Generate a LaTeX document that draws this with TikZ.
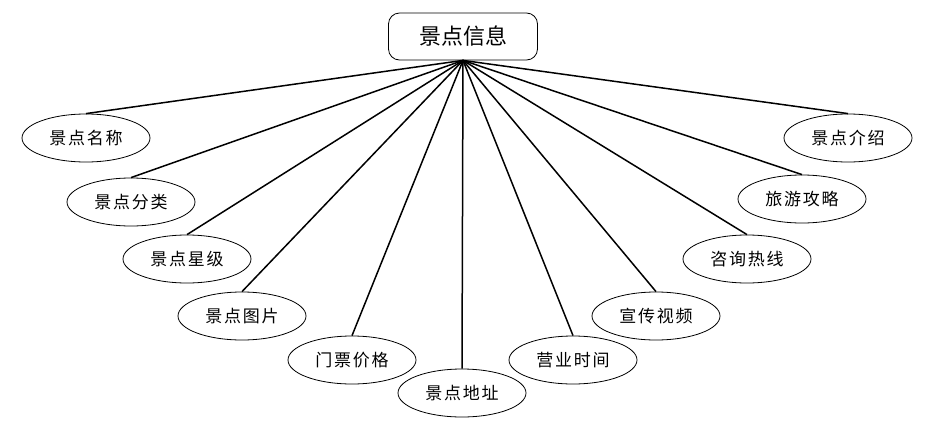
\documentclass[tikz,border=0pt]{standalone}
\usepackage{fontspec}
\setmainfont{Noto Sans CJK SC}
\newfontfamily\cjkleaf[LetterSpace=10]{Noto Sans CJK SC}
\usetikzlibrary{shapes.geometric}
\tikzset{
  leaf/.style={ellipse, draw, line width=0.8pt, minimum width=128pt, minimum height=48pt, inner sep=0pt, font=\cjkleaf\fontsize{17}{19}\selectfont},
  root/.style={draw, rounded corners=11pt, line width=0.8pt, minimum width=149pt, minimum height=47pt, inner sep=0pt, font=\fontsize{22}{24}\selectfont},
  link/.style={line width=1.5pt}
}
\begin{document}
\begin{tikzpicture}[x=1pt,y=-1pt]
\useasboundingbox (0,0) rectangle (926,434);
\node[root] (r) at (463,36.5) {景点信息};
\node[leaf] (a1) at (86,138) {景点名称};
\node[leaf] (a2) at (131,202) {景点分类};
\node[leaf] (a3) at (187,259) {景点星级};
\node[leaf] (a4) at (242,316) {景点图片};
\node[leaf] (a5) at (352,360) {门票价格};
\node[leaf] (a6) at (462,393) {景点地址};
\node[leaf] (a7) at (573,360) {营业时间};
\node[leaf] (a8) at (656,316) {宣传视频};
\node[leaf] (a9) at (747,259) {咨询热线};
\node[leaf] (a10) at (802,199) {旅游攻略};
\node[leaf] (a11) at (848,138) {景点介绍};
\foreach \n in {a1,a2,a3,a4,a5,a6,a7,a8,a9,a10,a11}
  \draw[link] (r.south) -- (\n.north);
\end{tikzpicture}
\end{document}
